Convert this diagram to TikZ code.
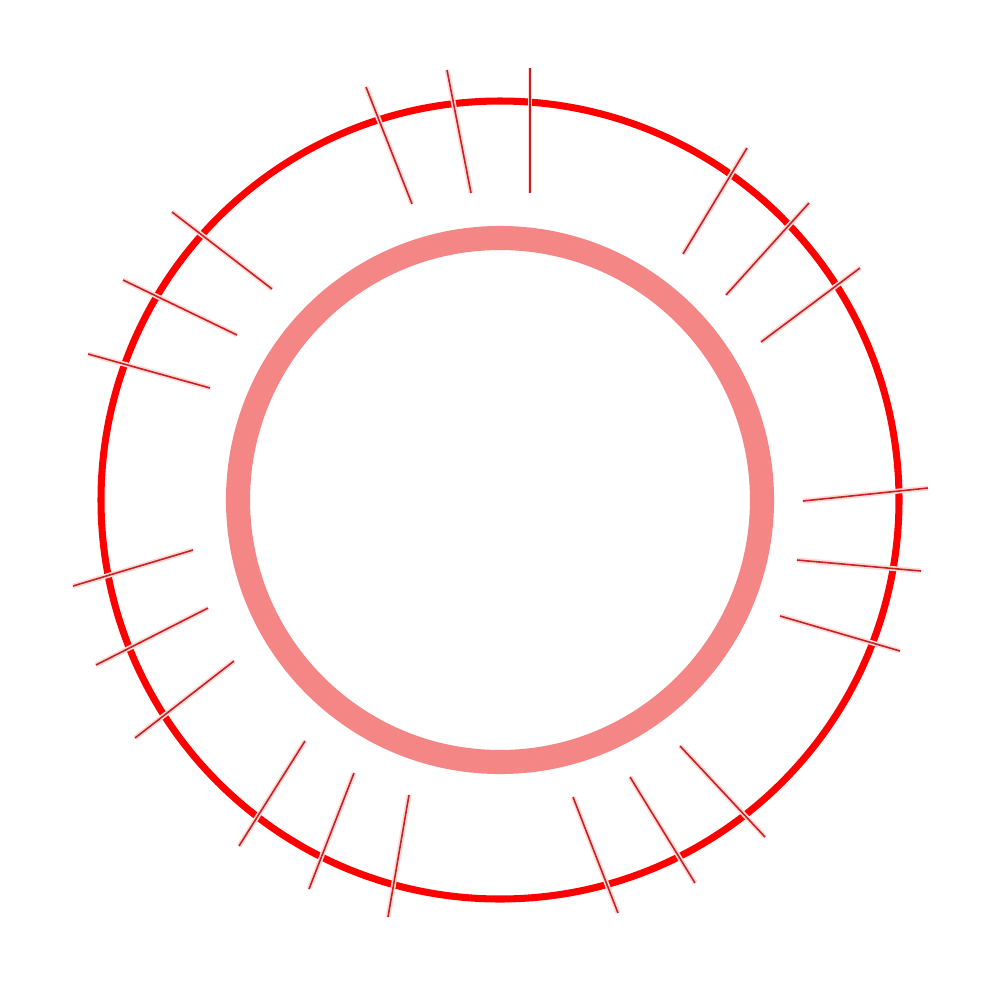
\documentclass[tikz,border=0pt]{standalone}
\definecolor{ringpink}{RGB}{244,134,134}
\definecolor{ringred}{RGB}{255,0,0}
\definecolor{tickred}{RGB}{190,0,0}
\definecolor{halo}{RGB}{255,215,215}
\begin{document}
\begin{tikzpicture}[x=0.01cm,y=-0.01cm,
  outerring/.style={draw=ringred,line width=2pt},
  innerring/.style={draw=ringpink,line width=6.85pt},
  tickhalo/.style={draw=halo,line width=1.4pt},
  tickline/.style={draw=tickred,line width=0.45pt,opacity=0.85}]
\useasboundingbox[fill=white] (0,0) rectangle (1000,1000);
\coordinate (c) at (500,500);
\draw[innerring] (c) circle[radius=262];
\draw[outerring] (c) circle[radius=399];
\foreach \ax/\ay/\bx/\by [count=\i] in {
 530/68/530/193, 447/70/471/193, 366/87/412/204, 172/212/272/289,
 123/280/237/335, 88/354/210/388, 73/586/193/550, 96/665/208/608,
 135/738/234/661, 239/846/305/741, 309/889/354/773, 388/917/409/795,
 618/913/573/797, 695/883/630/777, 765/837/680/746, 900/651/780/616,
 921/571/797/560, 928/488/803/501, 683/254/747/148, 726/295/809/203,
 761/342/860/268}{
  \coordinate (t\i a) at (\ax,\ay);
  \coordinate (t\i b) at (\bx,\by);
  \draw[tickhalo] (t\i a) -- (t\i b);
  \draw[tickline] (t\i a) -- (t\i b);
}
\end{tikzpicture}
\end{document}
